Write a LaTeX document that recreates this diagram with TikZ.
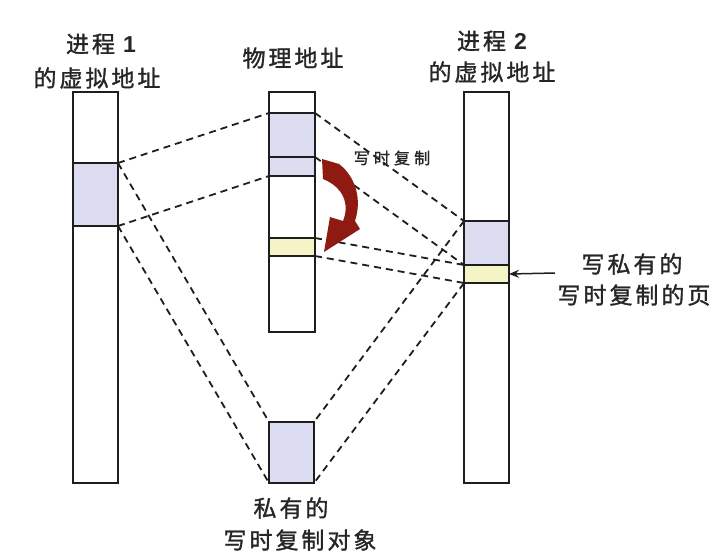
\documentclass[tikz,border=0pt]{standalone}
\usepackage{fontspec}
\usetikzlibrary{arrows.meta}
\newfontfamily\cjk[LetterSpace=13,FakeBold=1.3]{Noto Sans CJK SC}
\newfontfamily\cjksm[LetterSpace=26,FakeBold=1.2]{Noto Sans CJK SC}
\newfontfamily\arialf{Liberation Sans}
\definecolor{txt}{HTML}{262626}
\definecolor{blk}{HTML}{1E1E1E}
\definecolor{bluefill}{HTML}{DCDCF0}
\definecolor{yelfill}{HTML}{F5F4C6}
\definecolor{cowred}{HTML}{8E1A12}
\tikzset{
  colbox/.style={draw=blk, line width=2pt, fill=white, inner sep=0pt, outer sep=0pt, rectangle},
  bluebox/.style={colbox, fill=bluefill},
  yelbox/.style={colbox, fill=yelfill},
  dashln/.style={draw=blk, line width=1.8pt, dash pattern=on 7pt off 5pt},
  title/.style={text=txt, inner sep=0pt, font=\cjk\fontsize{23}{27}\selectfont},
  small/.style={text=txt, inner sep=0pt, font=\cjksm\fontsize{16}{20}\selectfont},
}
\begin{document}
\begin{tikzpicture}[x=1pt,y=-1pt]
\useasboundingbox (0,0) rectangle (717,552);
% columns
\node[colbox, minimum width=45pt, minimum height=391pt] (lc) at (95.5,287.5) {};
\node[colbox, minimum width=46pt, minimum height=240pt] (pc) at (292,212) {};
\node[colbox, minimum width=45pt, minimum height=391pt] (rc) at (486.5,287.5) {};
% blocks
\node[bluebox, minimum width=45pt, minimum height=63pt] (lb) at (95.5,194.5) {};
\node[bluebox, minimum width=46pt, minimum height=44pt] (pb1) at (292,135) {};
\node[bluebox, minimum width=46pt, minimum height=19pt] (pb2) at (292,166.5) {};
\node[yelbox, minimum width=46pt, minimum height=18pt] (py) at (292,247) {};
\node[bluebox, minimum width=45pt, minimum height=44pt] (rb) at (486.5,243) {};
\node[yelbox, minimum width=45pt, minimum height=18pt] (ry) at (486.5,274) {};
\node[bluebox, minimum width=45pt, minimum height=61pt] (bb) at (291.5,452.5) {};
% dashed mappings
\draw[dashln] (lb.north east) -- (pb1.north west);
\draw[dashln] (lb.south east) -- (pb2.south west);
\draw[dashln] (lb.north east) -- (bb.north west);
\draw[dashln] (lb.south east) -- (bb.south west);
\draw[dashln] (pb1.north east) -- (rb.north west);
\draw[dashln] (pb2.north east) -- (rb.south west);
\draw[dashln] (py.north east) -- (ry.north west);
\draw[dashln] (py.south east) -- (ry.south west);
\draw[dashln] (rb.north west) -- (bb.north east);
\draw[dashln] (ry.south west) -- (bb.south east);
% red copy-on-write arrow
\fill[cowred] (322,159) -- (339,164)
  .. controls (356,177) and (362,200) .. (355,221)
  -- (360,229) -- (324,252) -- (330,217) -- (343,221)
  .. controls (350,204) and (343,187) .. (323,179) -- cycle;
% pointer arrow
\coordinate (ra) at (555,273);
\draw[blk, line width=1.5pt, -{Stealth[length=10pt,width=8pt]}] (ra) -- (ry.east);
% texts
\node[title] (t1a) at (101,44) {进程 {\arialf\bfseries 1}};
\node[title] (t1b) at (97,78) {的虚拟地址};
\node[title] (tp) at (293,58) {物理地址};
\node[title] (t2a) at (492,41) {进程 {\arialf\bfseries 2}};
\node[title] (t2b) at (492,72) {的虚拟地址};
\node[small] (cow) at (392,158) {写时复制};
\node[title] (r1) at (632,264) {写私有的};
\node[title] (r2) at (634,295) {写时复制的页};
\node[title] (b1) at (291,508) {私有的};
\node[title] (b2) at (300,540) {写时复制对象};
\end{tikzpicture}
\end{document}
